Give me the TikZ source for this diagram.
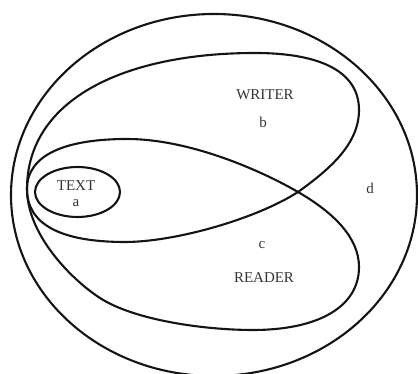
\documentclass[tikz,border=0pt]{standalone}
\usepackage{fontspec}
\setmainfont{Liberation Serif}
\begin{document}
\begin{tikzpicture}[x=1pt,y=1pt,
  loop/.style={draw=black!92,line width=2.1pt},
  lbl/.style={inner sep=0pt,text=black!80,font=\fontsize{15}{15}\selectfont}]
\useasboundingbox (0,0) rectangle (418,374);
\begin{scope}
\clip (0,0) rectangle (418,374);
% outer region
\draw[loop] (214,179) ellipse [x radius=203, y radius=181];
% shared tip and crossing
\coordinate (T) at (27,185);
\coordinate (cross) at (298,182);
% writer loop
\coordinate (wtop) at (255,321);
\coordinate (wright) at (359,264);
\coordinate (wbot) at (125,132);
\draw[loop] (T) .. controls (27,275) and (125,321) .. (wtop)
  .. controls (323,321) and (359,301) .. (wright)
  .. controls (359,230) and (330,205) .. (cross)
  .. controls (256,155) and (175,132) .. (wbot)
  .. controls (60,132) and (27,150) .. (T) -- cycle;
% reader loop
\coordinate (rtop) at (127,235);
\coordinate (rright) at (359,107);
\coordinate (rbot) at (253,44);
\coordinate (rlow) at (100,76);
\draw[loop] (T) .. controls (27,220) and (67,235) .. (rtop)
  .. controls (190,235) and (262,203) .. (cross)
  .. controls (332.6,162) and (359,137) .. (rright)
  .. controls (359,67) and (318,44) .. (rbot)
  .. controls (203,44) and (133.5,54.2) .. (rlow)
  .. controls (70.6,95) and (27,140) .. (T) -- cycle;
% text loop
\draw[loop] (77.5,182) ellipse [x radius=42.5, y radius=25];
\end{scope}
\node[lbl] (writer) at (265,279.5) {WRITER};
\node[lbl] (b) at (263,252) {b};
\node[lbl] (c) at (262,129) {c};
\node[lbl] (reader) at (264,96) {READER};
\node[lbl] (text) at (76,188) {TEXT};
\node[lbl] (a) at (76,171) {a};
\node[lbl] (d) at (370,186) {d};
\end{tikzpicture}
\end{document}
